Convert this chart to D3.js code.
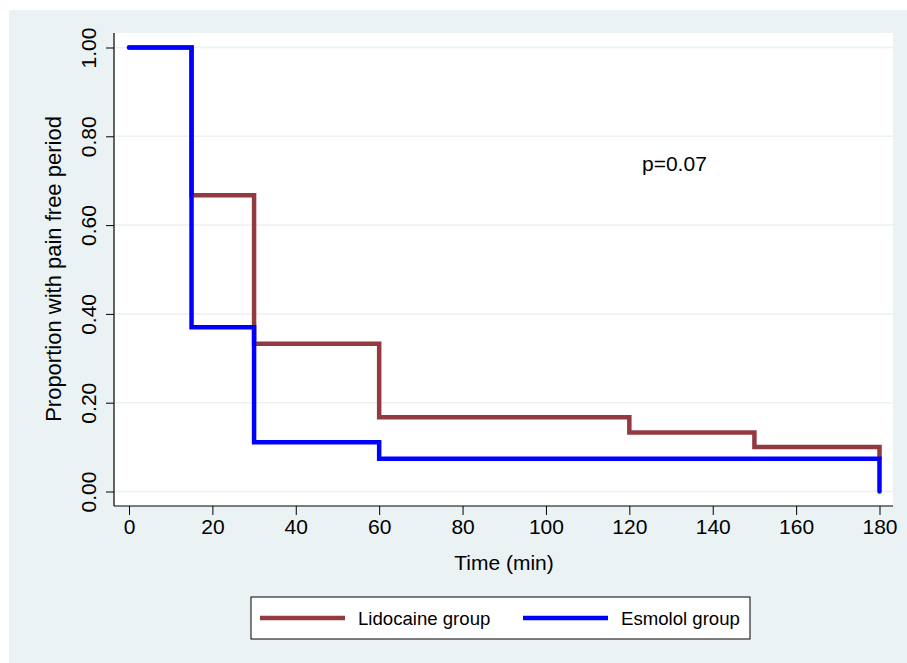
<!DOCTYPE html>
<html>
<head>
<meta charset="utf-8">
<script src="https://cdn.jsdelivr.net/npm/d3@7"></script>
<style>
  body { margin: 0; background: #fff; }
  svg text { font-family: "Liberation Sans", Arial, Helvetica, sans-serif; fill: #000; }
</style>
</head>
<body>
<svg id="chart" width="907" height="663"></svg>
<script>
// Kaplan-Meier style step data (time in min, proportion pain free)
const lidoTime = [0, 15, 30, 60, 120, 150, 180];
const lidoSurv = [1.0, 0.667, 0.333, 0.167, 0.133, 0.10, 0.075];
const esmoTime = [0, 15, 30, 60, 180];
const esmoSurv = [1.0, 0.37, 0.111, 0.074, 0.0];
const xTicks = [0, 20, 40, 60, 80, 100, 120, 140, 160, 180];
const yTicks = [0, 0.2, 0.4, 0.6, 0.8, 1.0];
const seriesNames = ["Lidocaine group", "Esmolol group"];
const seriesColors = ["#923A40", "#0000FF"];

const svg = d3.select("#chart");

// outer background
svg.append("rect").attr("x", 9).attr("y", 10).attr("width", 898).attr("height", 653).attr("fill", "#EAF2F3");

// plot region
const plot = {left: 114, top: 33, right: 893, bottom: 506};
svg.append("rect")
  .attr("x", plot.left).attr("y", plot.top)
  .attr("width", plot.right - plot.left).attr("height", plot.bottom - plot.top)
  .attr("fill", "#fff");

const x = d3.scaleLinear().domain([0, 180]).range([129, 879.5]);
const y = d3.scaleLinear().domain([0, 1]).range([491.5, 47.5]);

// gridlines
svg.selectAll(".grid").data(yTicks).join("line")
  .attr("class", "grid")
  .attr("x1", plot.left).attr("x2", plot.right)
  .attr("y1", d => y(d)).attr("y2", d => y(d))
  .attr("stroke", "#EAF2F3").attr("stroke-width", 1.5);

// y axis
const yAxis = svg.append("g").attr("transform", `translate(${plot.left},0)`)
  .call(d3.axisLeft(y).tickValues(yTicks).tickFormat(d3.format(".2f")).tickSize(8).tickPadding(0));
yAxis.select(".domain").remove();
yAxis.selectAll(".tick line").attr("stroke", "#000");
yAxis.selectAll(".tick text")
  .attr("x", 0).attr("y", 0).attr("dy", 0)
  .attr("transform", "translate(-18,0) rotate(-90)")
  .attr("text-anchor", "middle")
  .style("font-size", "21px");
svg.append("line").attr("x1", plot.left).attr("x2", plot.left)
  .attr("y1", plot.top).attr("y2", plot.bottom).attr("stroke", "#000").attr("stroke-width", 1.2);

// x axis
const xAxis = svg.append("g").attr("transform", `translate(0,${plot.bottom})`)
  .call(d3.axisBottom(x).tickValues(xTicks).tickSize(9).tickPadding(4));
xAxis.select(".domain").remove();
xAxis.selectAll(".tick line").attr("stroke", "#000");
xAxis.selectAll(".tick text").attr("dy", "0.71em").style("font-size", "21px");
svg.append("line").attr("x1", plot.left).attr("x2", plot.right)
  .attr("y1", plot.bottom).attr("y2", plot.bottom).attr("stroke", "#000").attr("stroke-width", 1.2);

// axis titles
svg.append("text")
  .attr("transform", "translate(61,269) rotate(-90)")
  .attr("text-anchor", "middle").style("font-size", "22px")
  .text("Proportion with pain free period");
svg.append("text")
  .attr("x", 504).attr("y", 570)
  .attr("text-anchor", "middle").style("font-size", "21px")
  .text("Time (min)");

// step lines
const step = d3.line().curve(d3.curveStepAfter).x(d => x(d[0])).y(d => y(d[1]));
const series = [d3.zip(lidoTime, lidoSurv), d3.zip(esmoTime, esmoSurv)];
svg.selectAll(".km").data(series).join("path")
  .attr("class", "km")
  .attr("d", step)
  .attr("fill", "none")
  .attr("stroke", (d, i) => seriesColors[i])
  .attr("stroke-width", 4.5)
  .attr("stroke-linecap", "round")
  .attr("stroke-linejoin", "miter");

// annotation
svg.append("text").attr("x", 642).attr("y", 171).style("font-size", "21px").text("p=0.07");

// legend
const legend = svg.append("g");
legend.append("rect").attr("x", 251).attr("y", 597).attr("width", 499).attr("height", 42)
  .attr("fill", "#fff").attr("stroke", "#000").attr("stroke-width", 1);
const legX = [260, 523];
seriesNames.forEach((name, i) => {
  legend.append("line")
    .attr("x1", legX[i]).attr("x2", legX[i] + 85)
    .attr("y1", 618).attr("y2", 618)
    .attr("stroke", seriesColors[i]).attr("stroke-width", 4.5);
  legend.append("text")
    .attr("x", legX[i] + 98).attr("y", 625)
    .style("font-size", "18.6px")
    .text(name);
});
</script>
</body>
</html>
